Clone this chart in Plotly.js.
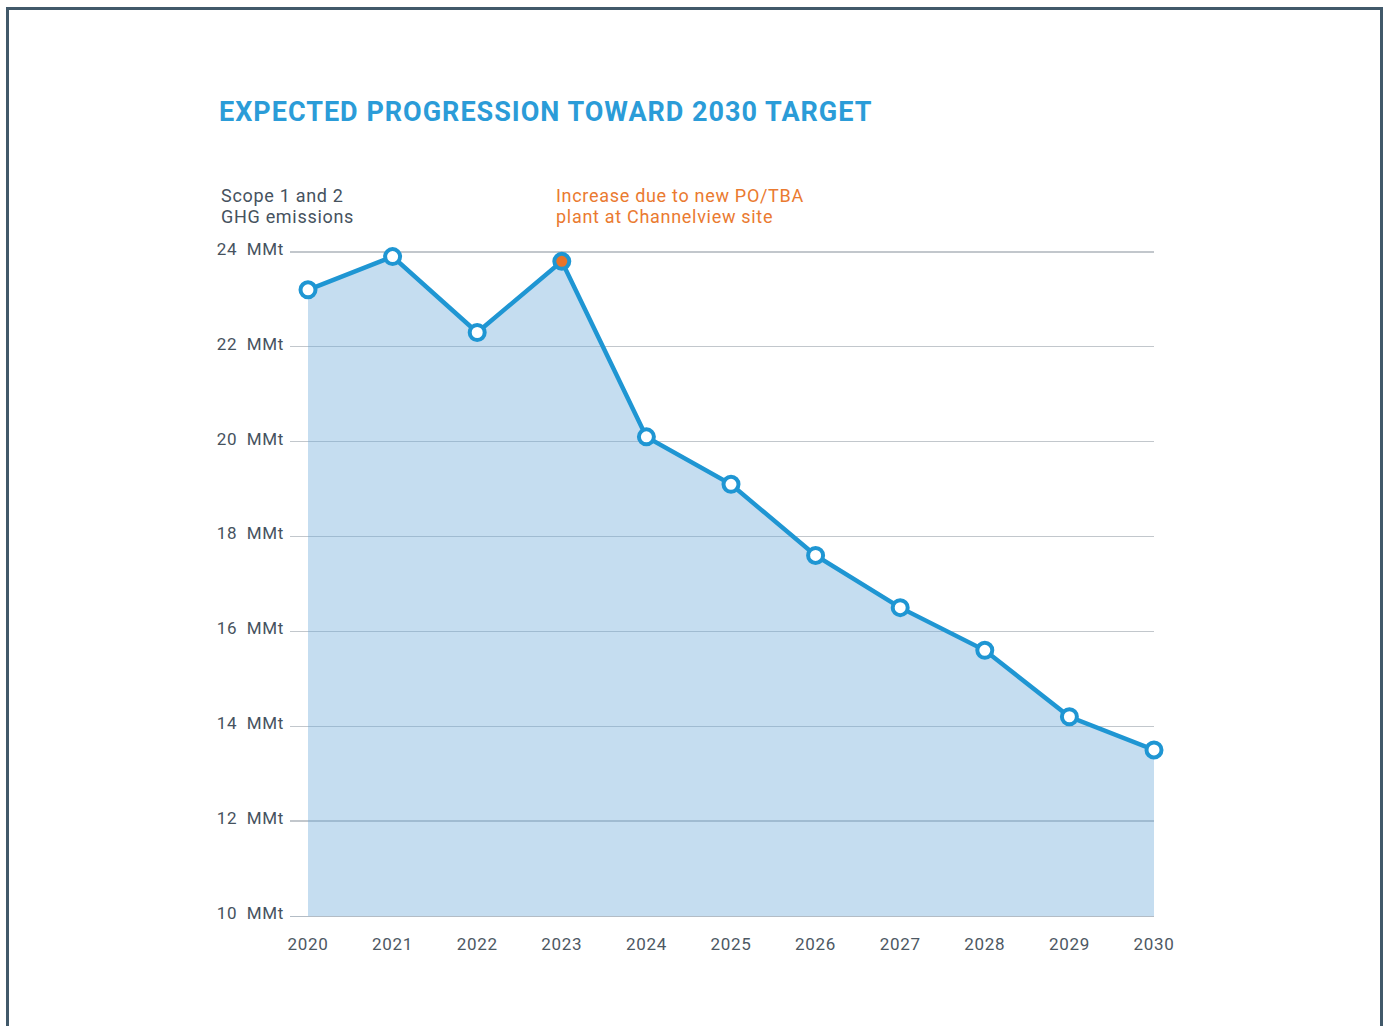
<!DOCTYPE html>
<html>
<head>
<meta charset="utf-8">
<script src="https://cdn.plot.ly/plotly-3.0.1.min.js"></script>
<style>
  html, body { margin: 0; padding: 0; background: #ffffff; }
  #chart { position: absolute; left: 0; top: 0; width: 1387px; height: 1026px; }
  #frame { position: absolute; left: 6px; top: 7px; width: 1371px; height: 1030px;
           border: 3px solid #41596a; border-bottom: none; pointer-events: none; }
  #chart text { letter-spacing: 0.7px; }
  #chart .gtitle { letter-spacing: 1px; }
</style>
</head>
<body>
<div id="chart"></div>
<div id="frame"></div>
<script>
const years = [2020, 2021, 2022, 2023, 2024, 2025, 2026, 2027, 2028, 2029, 2030];
const emissions = [23.2, 23.9, 22.3, 23.8, 20.1, 19.1, 17.6, 16.5, 15.6, 14.2, 13.5];
const yTickValues = [10, 12, 14, 16, 18, 20, 22, 24];
const yTickLabels = ['10\u2002MMt', '12\u2002MMt', '14\u2002MMt', '16\u2002MMt', '18\u2002MMt', '20\u2002MMt', '22\u2002MMt', '24\u2002MMt'];
const xTickLabels = ['2020', '2021', '2022', '2023', '2024', '2025', '2026', '2027', '2028', '2029', '2030'];
const highlightYear = 2023;
const yLabelLines = ['Scope 1 and 2', 'GHG emissions'];
const noteLines = ['Increase due to new PO/TBA', 'plant at Channelview site'];

const blue = '#1f96d3';
const markerFill = years.map(y => y === highlightYear ? '#e8742a' : '#ffffff');

const traces = [
  {
    x: years, y: emissions, type: 'scatter', mode: 'none',
    fill: 'tozeroy', fillcolor: 'rgba(110,170,218,0.4)', hoverinfo: 'skip', showlegend: false
  },
  {
    x: years, y: emissions, type: 'scatter', mode: 'lines+markers',
    line: { color: blue, width: 4.5 },
    marker: { size: 15, color: markerFill, line: { color: blue, width: 4 } },
    cliponaxis: false, showlegend: false
  }
];

// plot area: left 290, right 1154, top 240, bottom 916
const pl = 290, pr = 1154, pt = 240, pb = 916;
const px = v => (v - pl) / (pr - pl);
const py = v => 1 - (v - pt) / (pb - pt);

const annotations = [];
yLabelLines.forEach((t, i) => annotations.push({
  text: t, showarrow: false, xref: 'paper', yref: 'paper',
  x: px(219), y: py(196 + i * 20.5), xanchor: 'left', yanchor: 'middle', align: 'left',
  font: { size: 18, color: '#46525e' }
}));
noteLines.forEach((t, i) => annotations.push({
  text: t, showarrow: false, xref: 'paper', yref: 'paper',
  x: px(554), y: py(196 + i * 20.5), xanchor: 'left', yanchor: 'middle', align: 'left',
  font: { size: 18, color: '#ea7a30' }
}));

const layout = {
  width: 1387, height: 1026,
  margin: { l: pl, r: 1387 - pr, t: pt, b: 1026 - pb },
  paper_bgcolor: '#ffffff', plot_bgcolor: 'rgba(0,0,0,0)',
  font: { family: 'Roboto, "DejaVu Sans", sans-serif', color: '#46525e' },
  title: {
    text: '<b>EXPECTED PROGRESSION TOWARD 2030 TARGET</b>',
    font: { family: 'Roboto, sans-serif', size: 27, color: '#2b9cd8' },
    x: 219 / 1387, xanchor: 'left', xref: 'container',
    y: 1 - 112 / 1026, yanchor: 'middle', yref: 'container'
  },
  xaxis: {
    range: [2020 - 18 / 84.6, 2030],
    tickmode: 'array', tickvals: years, ticktext: xTickLabels,
    showgrid: false, zeroline: false, ticks: '',
    showline: true, linecolor: '#b3bcc5', linewidth: 1.4,
    tickfont: { size: 17, color: '#4d5863' }, ticklabelstandoff: 12
  },
  yaxis: {
    range: [10, 24.25],
    tickmode: 'array', tickvals: yTickValues, ticktext: yTickLabels,
    showgrid: true, gridcolor: '#c2c7cc', gridwidth: 1.4,
    zeroline: false, showline: false, ticks: '',
    tickfont: { size: 17, color: '#46525e' }, ticklabelstandoff: 5, ticklabelshift: -3
  },
  annotations: annotations
};

Plotly.newPlot('chart', traces, layout, { displayModeBar: false, staticPlot: true });
</script>
</body>
</html>
